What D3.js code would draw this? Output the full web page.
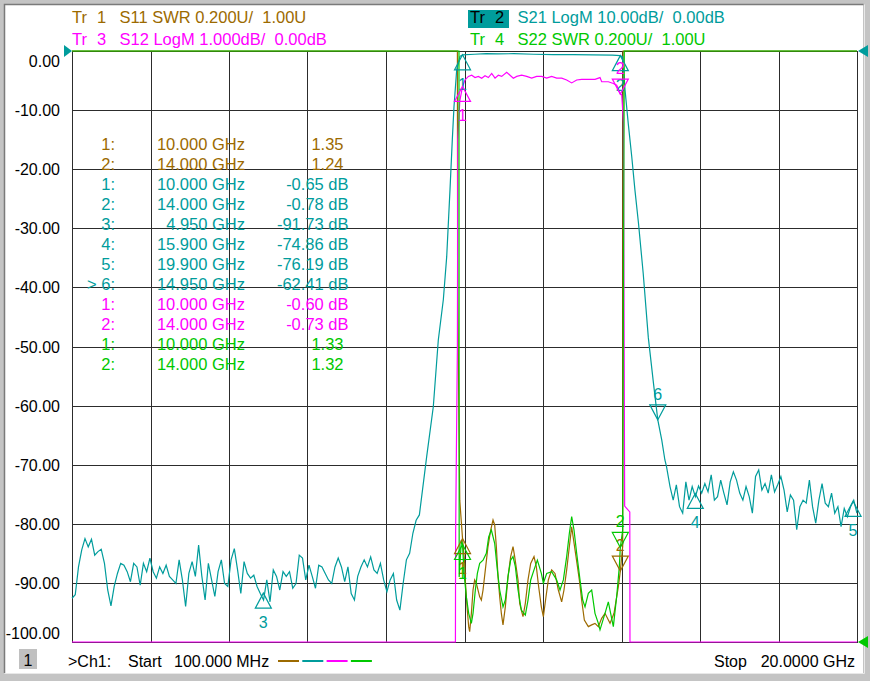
<!DOCTYPE html>
<html>
<head>
<meta charset="utf-8">
<script src="https://d3js.org/d3.v7.min.js"></script>
<style>
html, body { margin: 0; padding: 0; background: #c4c4c4; }
svg { display: block; }
text { font-family: "Liberation Sans", Arial, sans-serif; font-size: 16px; white-space: pre; }
text.big { font-size: 16.5px; }
</style>
</head>
<body>
<svg id="vna" width="870" height="681"></svg>
<script>

// sweep
var startGHz = 0.1;
var stopGHz = 20;
var dbTicks = [0, -10, -20, -30, -40, -50, -60, -70, -80, -90, -100];
var tickLabels = ['0.00', '-10.00', '-20.00', '-30.00', '-40.00', '-50.00', '-60.00', '-70.00', '-80.00', '-90.00', '-100.00'];

// trace headers
var trNames = ['1', '2', '3', '4'];
var trFormats = ['S11 SWR 0.200U/  1.00U', 'S21 LogM 10.00dB/  0.00dB', 'S12 LogM 1.000dB/  0.00dB', 'S22 SWR 0.200U/  1.00U'];

// S21 stopband below the passband, read every 0.0823 GHz from 0.1 GHz
var s21LowStart = 0.1, s21LowStep = 0.0823;
var s21LowDb = [
    -92.6, -92.0, -87.3, -84.4, -82.5, -83.9, -82.6, -85.3, -84.7, -84.3,
    -86.7, -91.2, -93.9, -90.6, -88.4, -86.7, -87.0, -88.1, -89.8, -86.7,
    -87.3, -90.4, -86.7, -88.1, -85.8, -88.1, -89.2, -87.3, -88.4, -87.0,
    -88.9, -89.5, -90.1, -86.1, -89.5, -94.0, -88.4, -86.4, -88.9, -83.6,
    -88.9, -92.9, -86.7, -89.5, -92.3, -88.1, -86.1, -90.1, -90.6, -86.1,
    -84.2, -87.8, -91.8, -86.4, -88.4, -89.2, -88.7, -90.6, -91.8, -92.9,
    -89.5, -93.2, -87.8, -88.9, -91.2, -88.1, -88.9, -88.1, -90.9, -90.1,
    -85.3, -85.8, -89.5, -87.0, -88.9, -90.9, -87.0, -87.3, -88.4, -89.5,
    -90.1, -87.3, -85.8, -87.3, -89.8, -87.3, -91.8, -92.9, -88.9, -87.3,
    -86.1, -87.3, -85.6, -87.8, -88.4, -86.7, -89.5, -91.5, -89.5, -88.4,
    -92.9, -94.6, -90.1, -86.1, -85.0, -81.6, -79.4, -78.5
];
// S21 skirts and passband [GHz, dB]
var s21Band = [
    [9.092, -68.6], [9.259, -60.2], [9.386, -48.9], [9.513, -42.1], [9.599, -34.8],
    [9.682, -23.5], [9.741, -15.0], [9.784, -9.4], [9.852, -3.2], [9.936, -0.9],
    [10.0, -0.65], [10.3, -0.55], [10.6, -0.45], [10.9, -0.5], [11.3, -0.45],
    [11.8, -0.55], [12.3, -0.6], [12.8, -0.6], [13.3, -0.65], [13.8, -0.7],
    [14.0, -0.78], [14.06, -1.0], [14.12, -6.6], [14.20, -12.2], [14.29, -17.9],
    [14.37, -23.5], [14.46, -29.1], [14.58, -37.6], [14.71, -48.5], [14.84, -56.2],
    [14.95, -62.4], [15.05, -65.8], [15.13, -69.2], [15.17, -70.3]
];
// S21 stopband above the passband, every 0.0803 GHz from 15.26 GHz
var s21HighStart = 15.26, s21HighStep = 0.0803;
var s21HighDb = [
    -73.7, -76.0, -73.4, -77.1, -78.2, -72.9, -76.0, -73.7, -75.4, -73.6,
    -74.8, -73.2, -74.6, -71.7, -76.0, -75.4, -72.6, -74.8, -76.8, -72.9,
    -71.2, -72.6, -74.8, -76.0, -73.7, -75.4, -78.2, -72.0, -70.9, -74.3,
    -73.2, -74.8, -71.7, -74.6, -73.4, -72.0, -74.3, -78.0, -75.1, -76.0,
    -81.0, -77.1, -76.0, -76.5, -72.6, -77.1, -79.9, -76.0, -73.2, -76.5,
    -77.1, -74.8, -78.2, -77.1, -80.5, -77.4, -78.8, -77.1, -76.0, -78.2
];

// S11 SWR [GHz, U] (off scale out of band)
var s11Swr = [
    [0.1, 10], [9.87, 10], [9.875, 2.3], [9.88, 2.15], [9.93, 1.48], [10.0, 1.35],
    [10.055, 1.266], [10.07, 1.21], [10.114, 1.119], [10.156, 1.052], [10.181, 1.035],
    [10.224, 1.097], [10.266, 1.176], [10.308, 1.21], [10.35, 1.199], [10.435, 1.153],
    [10.477, 1.142], [10.52, 1.176], [10.578, 1.244], [10.646, 1.323], [10.714, 1.379],
    [10.773, 1.413], [10.815, 1.396], [10.857, 1.323], [10.90, 1.221], [10.942, 1.153],
    [10.984, 1.097], [11.026, 1.058], [11.085, 1.119], [11.153, 1.221], [11.22, 1.289],
    [11.28, 1.323], [11.322, 1.289], [11.407, 1.21], [11.449, 1.131], [11.533, 1.086],
    [11.592, 1.131], [11.66, 1.21], [11.728, 1.266], [11.812, 1.289], [11.871, 1.255],
    [11.93, 1.187], [11.998, 1.119], [12.049, 1.086], [12.116, 1.153], [12.175, 1.21],
    [12.26, 1.244], [12.344, 1.232], [12.429, 1.176], [12.513, 1.136], [12.572, 1.176],
    [12.64, 1.244], [12.708, 1.323], [12.767, 1.39], [12.809, 1.351], [12.877, 1.289],
    [12.961, 1.21], [13.02, 1.142], [13.088, 1.074], [13.189, 1.052], [13.274, 1.058],
    [13.358, 1.063], [13.443, 1.052], [13.527, 1.08], [13.612, 1.097], [13.739, 1.063],
    [13.84, 1.097], [13.95, 1.187], [14.0, 1.24], [14.06, 1.323], [14.07, 10], [20, 10]
];

// S12 LogM [GHz, dB] (off scale out of band)
var s12Db = [
    [0.1, -40], [9.82, -40], [9.825, -8.15], [9.87, -5.0], [9.88, -1.5], [9.93, -0.85],
    [10.0, -0.6], [10.063, -0.49], [10.148, -0.43], [10.232, -0.41], [10.317, -0.45],
    [10.401, -0.43], [10.486, -0.46], [10.57, -0.42], [10.655, -0.45], [10.739, -0.38],
    [10.824, -0.46], [10.908, -0.41], [10.993, -0.43], [11.12, -0.36], [11.204, -0.41],
    [11.288, -0.46], [11.373, -0.43], [11.5, -0.41], [11.626, -0.43], [11.753, -0.46],
    [11.88, -0.43], [12.007, -0.43], [12.133, -0.46], [12.26, -0.43], [12.387, -0.46],
    [12.514, -0.46], [12.64, -0.49], [12.767, -0.54], [12.894, -0.49], [13.021, -0.48],
    [13.19, -0.48], [13.359, -0.48], [13.485, -0.45], [13.528, -0.52], [13.697, -0.52],
    [13.823, -0.55], [13.908, -0.58], [14.0, -0.73], [14.035, -0.74], [14.08, -1.2],
    [14.11, -7.7], [14.24, -7.8], [14.245, -40], [20, -40]
];

// S22 SWR [GHz, U]
var s22Swr = [
    [0.1, 10], [9.91, 10], [9.915, 1.22], [9.97, 1.345], [10.0, 1.33], [10.038, 1.232],
    [10.097, 1.153], [10.156, 1.097], [10.224, 1.063], [10.266, 1.097], [10.325, 1.176],
    [10.376, 1.232], [10.435, 1.266], [10.52, 1.277], [10.604, 1.30], [10.663, 1.356],
    [10.731, 1.379], [10.815, 1.334], [10.883, 1.244], [10.942, 1.176], [11.026, 1.119],
    [11.085, 1.142], [11.153, 1.221], [11.22, 1.277], [11.28, 1.289], [11.339, 1.255],
    [11.407, 1.176], [11.491, 1.108], [11.592, 1.091], [11.66, 1.142], [11.728, 1.21],
    [11.812, 1.244], [11.897, 1.277], [11.998, 1.232], [12.049, 1.199], [12.133, 1.232],
    [12.26, 1.238], [12.387, 1.21], [12.471, 1.176], [12.556, 1.21], [12.64, 1.289],
    [12.708, 1.368], [12.767, 1.424], [12.826, 1.379], [12.894, 1.30], [12.978, 1.21],
    [13.046, 1.142], [13.105, 1.119], [13.189, 1.165], [13.274, 1.176], [13.358, 1.097],
    [13.443, 1.063], [13.485, 1.041], [13.612, 1.097], [13.696, 1.136], [13.755, 1.097],
    [13.823, 1.052], [13.907, 1.153], [13.975, 1.255], [14.0, 1.32], [14.06, 1.379],
    [14.1, 10], [20, 10]
];

// markers [number, GHz, value]
var s11Markers = [[1, 10.0, 1.35], [2, 14.0, 1.24]];
var s21Markers = [[1, 10.0, -0.65], [2, 14.0, -0.78], [3, 4.95, -91.73], [4, 15.9, -74.86], [5, 19.9, -76.19], [6, 14.95, -62.41]];
var s12Markers = [[1, 10.0, -0.60], [2, 14.0, -0.73]];
var s22Markers = [[1, 10.0, 1.33], [2, 14.0, 1.32]];
var activeMarker = 6;

var colS11 = '#9c6a00';
var colS21 = '#009c9c';
var colS12 = '#ff00ff';
var colS22 = '#00c800';
var gridCol = '#2c2c2c';

// plot box (note: "top" is taken by window.top, so prefixed names)
var plotL = 72, plotR = 857, plotT = 51, plotB = 642;

var svg = d3.select('#vna');

var x = d3.scaleLinear().domain([startGHz, stopGHz]).range([plotL, plotR]);
var yDb = d3.scaleLinear().domain([-100, 0]).range([plotB, plotT]).clamp(true);
var yS12 = d3.scaleLinear().domain([-10, 0]).range([plotB, plotT]).clamp(true);
var ySwr = d3.scaleLinear().domain([1, 3]).range([plotB, plotT]).clamp(true);

// frame
svg.append('rect').attr('x', 0).attr('y', 0).attr('width', 870).attr('height', 681).attr('fill', '#c4c4c4');
svg.append('rect').attr('x', 5).attr('y', 5).attr('width', 858).attr('height', 668).attr('fill', '#ffffff');
svg.append('path').attr('d', 'M4.5,673V4.5H863.5').attr('fill', 'none').attr('stroke', '#7a7a7a').attr('stroke-width', 1.5);
svg.append('path').attr('d', 'M864.5,4.5V673.5H4.5').attr('fill', 'none').attr('stroke', '#e8e8e8').attr('stroke-width', 1);

// headers
var hdr = [
    { x: 72, y: 23, c: colS11 },
    { x: 470, y: 23, c: colS21 },
    { x: 72, y: 44.5, c: colS12 },
    { x: 470, y: 44.5, c: colS22 }
];
svg.append('rect').attr('x', 468).attr('y', 10).attr('width', 41).attr('height', 18).attr('fill', colS21);
hdr.forEach(function (h, i) {
    var tc = i === 1 ? '#000000' : h.c;
    svg.append('text').attr('class', 'big').attr('x', h.x).attr('y', h.y).attr('fill', tc).text('Tr');
    svg.append('text').attr('class', 'big').attr('x', h.x + 25).attr('y', h.y).attr('fill', tc).text(trNames[i]);
    svg.append('text').attr('class', 'big').attr('x', h.x + 47.5).attr('y', h.y).attr('fill', h.c)
        .attr('xml:space', 'preserve').text(trFormats[i]);
});

// grid
var grid = svg.append('g').attr('shape-rendering', 'crispEdges');
var xGrid = d3.range(11).map(function (i) { return startGHz + i * (stopGHz - startGHz) / 10; });
grid.selectAll('line.v').data(xGrid).enter().append('line')
    .attr('x1', function (d) { return Math.round(x(d)) + 0.5; })
    .attr('x2', function (d) { return Math.round(x(d)) + 0.5; })
    .attr('y1', plotT).attr('y2', plotB)
    .attr('stroke', gridCol).attr('stroke-width', 1.3);
grid.selectAll('line.h').data(dbTicks).enter().append('line')
    .attr('x1', plotL).attr('x2', plotR + 1)
    .attr('y1', function (d) { return Math.round(yDb(d)) + 0.5; })
    .attr('y2', function (d) { return Math.round(yDb(d)) + 0.5; })
    .attr('stroke', gridCol).attr('stroke-width', 1.3);

// y labels (end labels nudged inside)
svg.selectAll('text.ylab').data(dbTicks).enter().append('text')
    .attr('class', 'ylab')
    .attr('x', 60)
    .attr('y', function (d, i) {
        var off = 6;
        if (i === 0) off = 16;
        if (i === dbTicks.length - 1) off = -3;
        return yDb(d) + off;
    })
    .attr('text-anchor', 'end')
    .attr('fill', '#000')
    .text(function (d, i) { return tickLabels[i]; });

// marker table
var rows = [];
s11Markers.forEach(function (m) { rows.push({ m: m, c: colS11, swr: true, act: false }); });
s21Markers.forEach(function (m) { rows.push({ m: m, c: colS21, swr: false, act: m[0] === activeMarker }); });
s12Markers.forEach(function (m) { rows.push({ m: m, c: colS12, swr: false, act: false }); });
s22Markers.forEach(function (m) { rows.push({ m: m, c: colS22, swr: true, act: false }); });

var table = svg.append('g');
rows.forEach(function (r, i) {
    var by = 149.5 + i * 20;
    table.append('text').attr('class', 'big').attr('x', 115).attr('y', by).attr('text-anchor', 'end').attr('fill', r.c)
        .attr('xml:space', 'preserve').text((r.act ? '> ' : '') + r.m[0] + ':');
    table.append('text').attr('class', 'big').attr('x', 245).attr('y', by).attr('text-anchor', 'end').attr('fill', r.c)
        .text(r.m[1].toFixed(3) + ' GHz');
    table.append('text').attr('class', 'big').attr('x', r.swr ? 343.5 : 348.5).attr('y', by).attr('text-anchor', 'end').attr('fill', r.c)
        .text(r.swr ? r.m[2].toFixed(2) : r.m[2].toFixed(2) + ' dB');
});

// traces
var s21Pts = [];
s21LowDb.forEach(function (v, i) { s21Pts.push([s21LowStart + i * s21LowStep, v]); });
s21Band.forEach(function (p) { s21Pts.push(p); });
s21HighDb.forEach(function (v, i) { s21Pts.push([s21HighStart + i * s21HighStep, v]); });

function drawTrace(data, yScale, col) {
    var line = d3.line()
        .x(function (d) { return x(d[0]); })
        .y(function (d) { return yScale(d[1]); });
    svg.append('path').datum(data)
        .attr('d', line)
        .attr('fill', 'none')
        .attr('stroke', col)
        .attr('stroke-width', 1.2);
}
drawTrace(s11Swr, ySwr, colS11);
drawTrace(s21Pts, yDb, colS21);
drawTrace(s12Db, yS12, colS12);
drawTrace(s22Swr, ySwr, colS22);

// markers
function drawMarkers(list, yScale, col, downList) {
    list.forEach(function (m) {
        var mx = x(m[1]);
        var my = yScale(m[2]);
        var down = downList.indexOf(m[0]) >= 0;
        var h = down ? -15 : 15;
        svg.append('path')
            .attr('d', 'M' + mx + ',' + my + 'L' + (mx - 8) + ',' + (my + h) + 'L' + (mx + 8) + ',' + (my + h) + 'Z')
            .attr('fill', 'none').attr('stroke', col).attr('stroke-width', 1.2);
        svg.append('text')
            .attr('x', mx).attr('y', down ? my + h - 5 : my + h + 20)
            .attr('text-anchor', 'middle').attr('fill', col)
            .text(m[0]);
    });
}
drawMarkers(s11Markers, ySwr, colS11, [2]);
drawMarkers(s21Markers, yDb, colS21, [6]);
drawMarkers(s12Markers, yS12, colS12, [2]);
drawMarkers(s22Markers, ySwr, colS22, [2]);

// reference arrows
svg.append('path').attr('d', 'M64,' + (yDb(0) - 6) + 'L72,' + yDb(0) + 'L64,' + (yDb(0) + 6) + 'Z').attr('fill', colS21);
svg.append('path').attr('d', 'M868,' + (yS12(0) - 6) + 'L858,' + yS12(0) + 'L868,' + (yS12(0) + 6) + 'Z').attr('fill', colS21);
svg.append('path').attr('d', 'M868,' + (ySwr(1) - 6) + 'L858,' + ySwr(1) + 'L868,' + (ySwr(1) + 6) + 'Z').attr('fill', colS22);

// channel bar
svg.append('rect').attr('x', 19).attr('y', 649).attr('width', 18).attr('height', 20).attr('fill', '#c0c0c0');
svg.append('text').attr('x', 28).attr('y', 665.5).attr('text-anchor', 'middle').attr('fill', '#000').text('1');
svg.append('text').attr('x', 68).attr('y', 667).attr('fill', '#000').text('>Ch1:');
svg.append('text').attr('x', 128).attr('y', 667).attr('fill', '#000').text('Start');
svg.append('text').attr('x', 174).attr('y', 667).attr('fill', '#000').text('100.000 MHz');
[colS11, colS21, colS12, colS22].forEach(function (c, i) {
    svg.append('line').attr('x1', 278 + i * 24.3).attr('x2', 299 + i * 24.3)
        .attr('y1', 661).attr('y2', 661).attr('stroke', c).attr('stroke-width', 2);
});
svg.append('text').attr('x', 714).attr('y', 667).attr('fill', '#000').text('Stop');
svg.append('text').attr('x', 855).attr('y', 667).attr('text-anchor', 'end').attr('fill', '#000').text('20.0000 GHz');

</script>
</body>
</html>
